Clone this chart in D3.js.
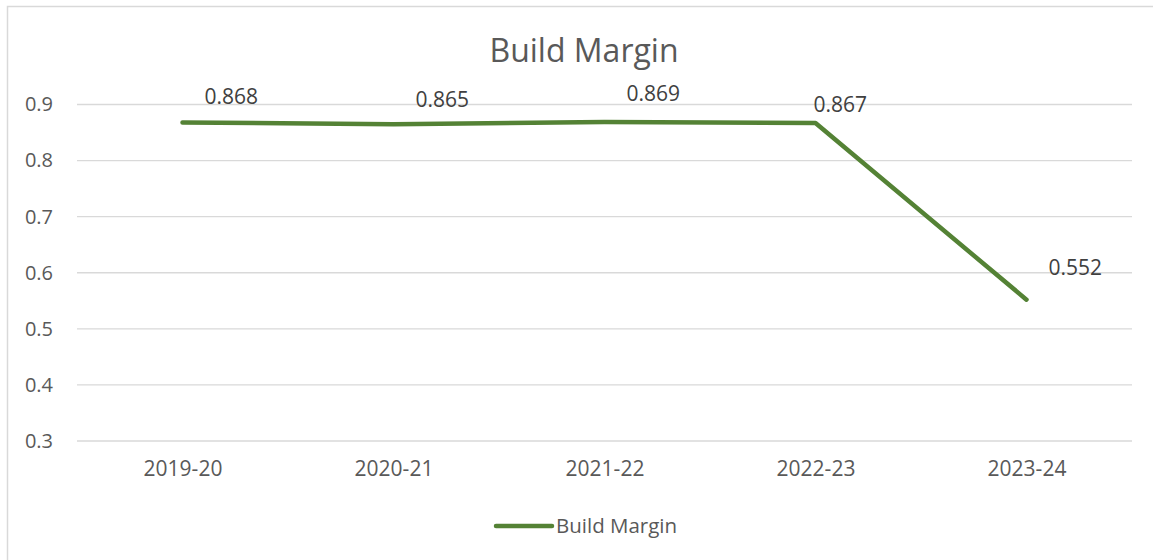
<!DOCTYPE html>
<html>
<head>
<meta charset="utf-8">
<script src="https://cdn.jsdelivr.net/npm/d3@7"></script>
<style>
  body { margin: 0; background: #fff; }
  svg { display: block; font-family: "Open Sans", sans-serif; }
</style>
</head>
<body>
<div id="chart"></div>
<script>
const title = 'Build Margin';
const seriesName = 'Build Margin';
const years = ['2019-20', '2020-21', '2021-22', '2022-23', '2023-24'];
const margins = [0.868, 0.865, 0.869, 0.867, 0.552];
const yTicks = [0.3, 0.4, 0.5, 0.6, 0.7, 0.8, 0.9];

// label nudges (dx from point, dy baseline from point)
const labelShift = [[22, -18], [22, -17], [22, -21], [-2, -11], [22, -25]];

const W = 1153, H = 560;
const plot = { left: 77, right: 1132, top: 104.5, bottom: 441 };
const green = '#548235';
const textColor = '#595959';

const svg = d3.select('#chart')
  .append('svg')
  .attr('width', W)
  .attr('height', H);

// chart border
svg.append('rect')
  .attr('x', 7.5)
  .attr('y', 6.5)
  .attr('width', 1200)
  .attr('height', 600)
  .attr('fill', '#fff')
  .attr('stroke', '#d9d9d9')
  .attr('stroke-width', 1.5);

const x = d3.scalePoint()
  .domain(years)
  .range([plot.left, plot.right])
  .padding(0.5);

const y = d3.scaleLinear()
  .domain([0.3, 0.9])
  .range([plot.bottom, plot.top]);

svg.append('text')
  .attr('x', 584)
  .attr('y', 62)
  .attr('text-anchor', 'middle')
  .attr('fill', textColor)
  .style('font-size', '32px')
  .text(title);

// gridlines
svg.append('g')
  .selectAll('line')
  .data(yTicks)
  .enter()
  .append('line')
  .attr('x1', plot.left)
  .attr('x2', plot.right)
  .attr('y1', d => y(d))
  .attr('y2', d => y(d))
  .attr('stroke', '#d9d9d9')
  .attr('stroke-width', 1.3);

// Y Axis
const yAxis = svg.append('g')
  .attr('transform', `translate(${plot.left},0)`)
  .call(d3.axisLeft(y).tickValues(yTicks).tickFormat(d3.format('.1f')).tickSize(0).tickPadding(24));
yAxis.select('.domain').remove();
yAxis.selectAll('text')
  .attr('fill', textColor)
  .style('font-size', '20px')
  .style('font-family', '"Open Sans", sans-serif');

// X Axis
const xAxis = svg.append('g')
  .attr('transform', `translate(0,${plot.bottom})`)
  .call(d3.axisBottom(x).tickSize(0).tickPadding(20));
xAxis.select('.domain').remove();
xAxis.selectAll('text')
  .attr('fill', textColor)
  .style('font-size', '21px')
  .style('font-family', '"Open Sans", sans-serif');

const line = d3.line()
  .x((d, i) => x(years[i]))
  .y(d => y(d));

svg.append('path')
  .datum(margins)
  .attr('fill', 'none')
  .attr('stroke', green)
  .attr('stroke-width', 4.5)
  .attr('stroke-linecap', 'round')
  .attr('stroke-linejoin', 'round')
  .attr('d', line);

svg.append('g')
  .selectAll('text')
  .data(margins)
  .enter()
  .append('text')
  .attr('x', (d, i) => x(years[i]) + labelShift[i][0])
  .attr('y', (d, i) => y(d) + labelShift[i][1])
  .attr('fill', '#404040')
  .style('font-size', '21px')
  .text(d => d3.format('.3f')(d));

// legend
const legend = svg.append('g').attr('transform', 'translate(496,526)');
legend.append('line')
  .attr('x1', 0)
  .attr('x2', 56)
  .attr('stroke', green)
  .attr('stroke-width', 4.5)
  .attr('stroke-linecap', 'round');
legend.append('text')
  .attr('x', 60)
  .attr('y', 7)
  .attr('fill', textColor)
  .style('font-size', '20.5px')
  .text(seriesName);
</script>
</body>
</html>
